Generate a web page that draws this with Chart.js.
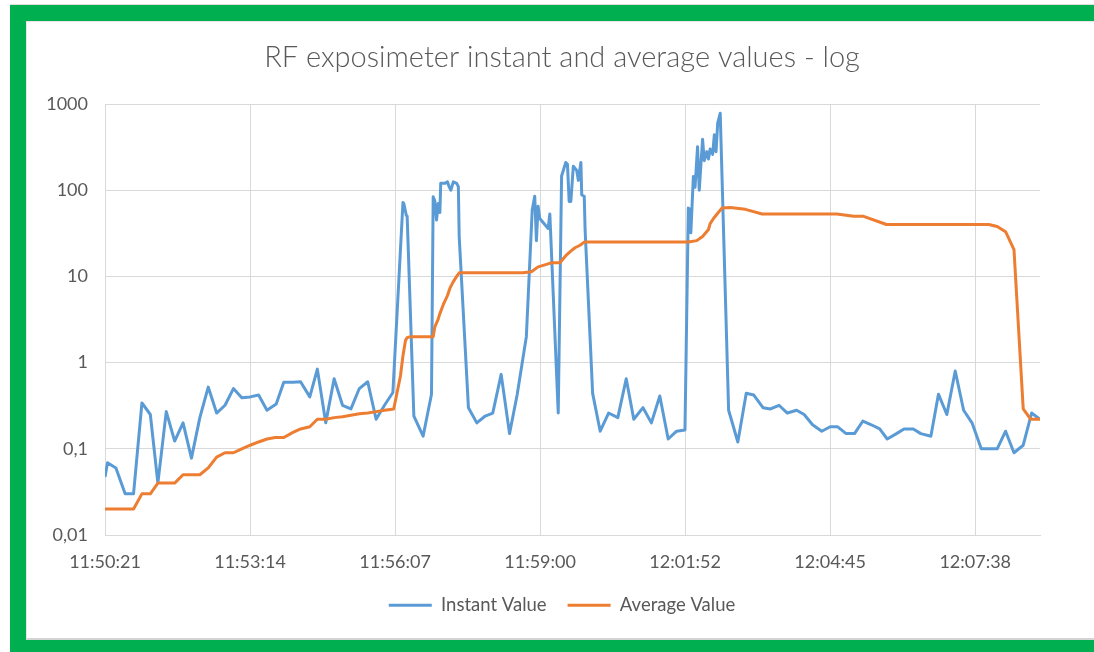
<!DOCTYPE html>
<html><head><meta charset="utf-8">
<script src="https://cdn.jsdelivr.net/npm/chart.js@4.4.1/dist/chart.umd.min.js"></script>
<style>
html,body{margin:0;padding:0;background:#fff;width:1094px;height:652px;overflow:hidden}
#frame{position:absolute;left:10px;top:4px;width:1084px;height:648px;background:#00B050;border-top:1px solid #dcdcdc}
#panel{position:absolute;left:26px;top:21px;width:1068px;height:616px;background:#fff;border-bottom:2px solid #d4d4d4;border-top:1px solid #e6e6e6;border-left:1px solid #e6e6e6}
canvas{position:absolute;left:0;top:0}
</style></head><body>
<div id="frame"></div><div id="panel"></div>
<canvas id="c" width="1094" height="652"></canvas>
<script>
// ---- data (x = seconds elapsed since start of log, 11:50:21) ----
const chartTitle = 'RF exposimeter instant and average values - log';
const seriesNames = ['Instant Value', 'Average Value'];

const instantTime = [0,3,13,24,34,44,54,63,73,83,93,103,113,123,133,143,153,163,173,183,193,204,213,224,233,244,253,263,273,283,293,303,313,323,333,343,
  355,356,359,360,368,379,389,391,393,395,397,399,400,405,408,410,412,415,419,421,422,433,443,453,462,472,482,491,502,
  509,512,514,516,518,528,530,540,544,549,551,553,555,558,562,564,567,568,571,572,581,590,600,611,621,630,641,651,661,671,681,691,
  695,697,698,701,703,706,708,712,714,717,719,721,724,726,728,730,733,743,754,764,773,784,793,803,813,824,833,843,854,864,873,883,893,
  903,913,923,932,943,952,963,972,984,993,1003,1013,1023,1033,1044,1054,1063,1073,1083,1094,1104,1114];
const instantValue = [0.047,0.069,0.06,0.03,0.03,0.34,0.25,0.04,0.27,0.123,0.2,0.078,0.23,0.52,0.26,0.32,0.5,0.39,0.4,0.42,0.28,0.33,0.59,0.59,0.6,0.4,0.84,0.2,0.65,0.32,0.29,0.5,0.6,0.22,0.32,0.45,
  72,70,51,50,0.24,0.14,0.43,84,75,45,70,55,120,120,125,110,100,125,120,110,29,0.3,0.2,0.24,0.26,0.73,0.15,0.42,2.0,
  59,85,26,65,47,36,53,0.26,146,210,200,74,74,190,170,130,210,88,85,35,0.44,0.16,0.26,0.23,0.65,0.22,0.3,0.2,0.41,0.13,0.16,0.165,
  62,60,32,144,108,320,100,390,220,280,230,300,260,440,280,600,780,0.28,0.12,0.44,0.42,0.3,0.29,0.32,0.26,0.28,0.25,0.19,0.16,0.18,0.18,0.15,0.15,
  0.21,0.19,0.17,0.13,0.15,0.17,0.17,0.15,0.14,0.43,0.25,0.8,0.28,0.2,0.1,0.1,0.1,0.16,0.09,0.11,0.26,0.22];

const averageTime = [0,34,44,54,63,83,93,113,123,133,143,153,163,173,183,193,203,213,224,233,244,253,263,273,283,293,303,313,323,333,344,
  352,355,358,360,364,391,393,397,399,403,408,411,415,419,422,498,508,516,526,532,542,550,556,560,566,571,
  695,705,712,719,721,725,730,735,745,763,783,872,892,903,931,1053,1063,1073,1083,1094,1103,1114];
const averageValue = [0.02,0.02,0.03,0.03,0.04,0.04,0.05,0.05,0.06,0.08,0.09,0.09,0.1,0.11,0.12,0.13,0.135,0.135,0.155,0.17,0.18,0.22,0.22,0.23,0.235,0.245,0.255,0.26,0.27,0.28,0.29,
  0.7,1.2,1.8,1.95,2.0,2.0,2.6,3.2,3.7,4.7,6,7.3,8.7,10,11,11,11.3,12.9,13.8,14.4,14.4,17.8,20,21.5,23,25,
  25,26,29,35,41,47,54,62,63,60,53,53,50,50,40,40,38,33,20.5,0.29,0.22,0.22];

const xTickPositions = [0,172.8,345.6,518.4,691.2,864,1036.8];
const xTickLabels = ['11:50:21','11:53:14','11:56:07','11:59:00','12:01:52','12:04:45','12:07:38'];
const yTickValues = [0.01,0.1,1,10,100,1000];
const yTickLabels = ['0,01','0,1','1','10','100','1000'];

// ---- chart ----
const FONT = 'Lato, "Open Sans", sans-serif';
const TXT = '#595959';
const GRID = '#D9D9D9';
const toPts = (xs, ys) => xs.map((t, i) => ({x: t, y: ys[i]}));

new Chart(document.getElementById('c').getContext('2d'), {
  type: 'line',
  data: {
    datasets: [
      {label: seriesNames[0], data: toPts(instantTime, instantValue), borderColor: '#5B9BD5', backgroundColor: '#5B9BD5',
       borderWidth: 3, pointRadius: 0, tension: 0, order: 2, borderJoinStyle: 'round', yAxisID: 'y'},
      {label: seriesNames[1], data: toPts(averageTime, averageValue), borderColor: '#ED7D31', backgroundColor: '#ED7D31',
       borderWidth: 3, pointRadius: 0, tension: 0, order: 1, borderJoinStyle: 'round', yAxisID: 'y'}
    ]
  },
  options: {
    responsive: false, animation: false, devicePixelRatio: 1,
    layout: {padding: {left: 30, right: 0, top: 21, bottom: 27.5}},
    plugins: {
      title: {display: true, text: chartTitle, color: TXT, font: {family: FONT, size: 29, weight: 300}, padding: {top: 19.6, bottom: 28.6}},
      legend: {
        position: 'bottom',
        labels: {
          color: TXT, font: {family: FONT, size: 18.5}, boxWidth: 43, boxHeight: 3, padding: 21,
          sort: (a, b) => a.datasetIndex - b.datasetIndex,
          generateLabels: (chart) => Chart.defaults.plugins.legend.labels.generateLabels(chart).map(l => Object.assign(l, {lineWidth: 0}))
        }
      },
      tooltip: {enabled: false}
    },
    scales: {
      x: {
        type: 'linear', min: 0, max: 1114,
        afterBuildTicks: s => { s.ticks = xTickPositions.map(v => ({value: v})); },
        afterFit: s => { s.height = 40; },
        ticks: {callback: (v, i) => xTickLabels[i], autoSkip: false, maxRotation: 0, padding: 16, color: TXT, font: {family: FONT, size: 18}},
        grid: {color: GRID, drawTicks: false},
        border: {color: GRID}
      },
      y: {
        type: 'logarithmic', position: 'left', min: 0.01, max: 1000,
        afterBuildTicks: s => { s.ticks = yTickValues.map(v => ({value: v})); },
        afterFit: s => { s.width = 75; },
        ticks: {callback: (v, i) => yTickLabels[i], padding: 17, color: TXT, font: {family: FONT, size: 18}},
        grid: {color: GRID, drawTicks: false},
        border: {color: GRID}
      },
      yRight: {
        type: 'linear', position: 'right', min: 0, max: 1, display: true,
        afterFit: s => { s.width = 54; },
        ticks: {display: false}, grid: {display: false}, border: {display: false}
      }
    }
  }
});
</script></body></html>
